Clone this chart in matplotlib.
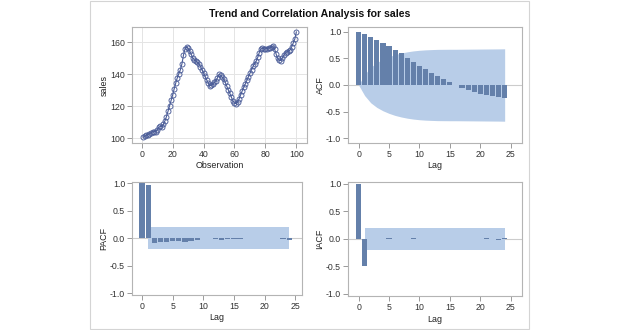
import numpy as np
import matplotlib.pyplot as plt
from matplotlib.patches import Rectangle

plt.rcParams['font.family'] = ['Liberation Sans', 'DejaVu Sans']

# ---------------------------------------------------------------
# data
# ---------------------------------------------------------------
obs = list(range(1, 101))
sales = [100.6, 101.2, 101.7, 102.2, 102.7, 103.3, 103.8, 104.1, 104.0, 105.2,
         106.7, 107.3, 107.0, 108.5, 110.8, 113.5, 116.8, 120.2, 123.6, 127.0,
         130.8, 134.5, 137.8, 140.4, 142.8, 146.5, 152.0, 156.0, 157.2, 156.3,
         154.4, 152.5, 150.2, 149.0, 148.2, 147.6, 146.5, 144.8, 142.8, 140.8,
         138.6, 136.5, 134.5, 132.8, 133.0, 134.0, 135.0, 135.8, 137.8, 140.0,
         139.4, 138.3, 136.9, 135.0, 132.5, 130.2, 128.0, 125.6, 123.2, 121.9,
         121.6, 122.6, 124.6, 127.2, 129.6, 131.8, 134.0, 136.2, 138.4, 140.6,
         142.8, 145.0, 146.6, 148.2, 150.5, 153.5, 155.8, 156.4, 155.8, 155.9,
         156.1, 156.3, 156.6, 157.0, 157.4, 155.6, 152.4, 149.9, 148.7, 148.6,
         150.2, 152.2, 153.3, 154.1, 154.6, 155.2, 157.2, 159.6, 162.0, 166.5]

lags = list(range(0, 25))
acf = [1.0, 0.956, 0.906, 0.85, 0.79, 0.73, 0.654, 0.60, 0.516, 0.44,
       0.365, 0.30, 0.233, 0.17, 0.107, 0.05, 0.004, -0.057, -0.10, -0.138,
       -0.163, -0.19, -0.207, -0.22, -0.239]
acf_band = [0.0, 0.20, 0.336, 0.423, 0.486, 0.535, 0.574, 0.603, 0.626, 0.643,
            0.655, 0.663, 0.668, 0.672, 0.673, 0.674, 0.674, 0.675, 0.676, 0.677,
            0.678, 0.679, 0.68, 0.681, 0.683]

pacf = [1.0, 0.964, -0.08, -0.067, -0.067, -0.055, -0.048, -0.06, -0.055, -0.025,
        0.0, -0.005, -0.012, -0.03, -0.02, -0.02, -0.008, 0.0, -0.003, 0.003,
        -0.005, -0.003, 0.006, -0.015, -0.03]
iacf = [1.0, -0.494, -0.003, 0.002, 0.003, 0.006, 0.002, -0.002, 0.004, 0.015,
        0.004, -0.003, -0.006, -0.002, 0.002, -0.002, 0.004, -0.001, 0.001, -0.002,
        0.002, 0.008, 0.004, -0.02, 0.012]
band_lim = 0.2

bar_col = '#6480aa'
band_col = '#b8cde8'
line_col = '#4a5c98'
frame_col = '#b4b4b4'

W, H = 620, 330
fig = plt.figure(figsize=(6.2, 3.3), dpi=100)
fig.patches.append(Rectangle((90 / W, 1 - 329 / H), 439 / W, 328 / H,
                             transform=fig.transFigure, fill=False,
                             edgecolor='#d4d4d4', linewidth=0.8))

def px_axes(l, t, r, b):
    return fig.add_axes([l / W, 1 - b / H, (r - l) / W, (b - t) / H])

def style(ax, ylabel, xlabel, wpx, hpx):
    for s in ax.spines.values():
        s.set_color(frame_col)
        s.set_linewidth(0.8)
    ax.tick_params(length=3.5, width=0.7, color='#9a9a9a', labelsize=6.3,
                   labelcolor='#333333', pad=1.5)
    ax.set_ylabel(ylabel, fontsize=6.4, color='#222222')
    ax.set_xlabel(xlabel, fontsize=6.4, color='#222222')
    ax.yaxis.set_label_coords(-23.5 / wpx, 0.5)
    ax.xaxis.set_label_coords(0.5, -18.5 / hpx)

# top-left: series plot
ax1 = px_axes(132, 27, 307, 143)
ax1.grid(True, color='#e4e4e4', linewidth=0.7)
ax1.set_axisbelow(True)
ax1.plot(obs, sales, color=line_col, linewidth=0.8, marker='o', markersize=3.6,
         markerfacecolor='none', markeredgecolor=line_col, markeredgewidth=0.65)
ax1.set_xlim(-6.3, 106.9)
ax1.set_ylim(96.9, 169.6)
ax1.set_xticks([0, 20, 40, 60, 80, 100])
ax1.set_yticks([100, 120, 140, 160])
style(ax1, 'sales', 'Observation', 175, 116)

def corr_panel(ax, vals, band_x, band_lo, band_hi, ylabel, xlim, wpx, hpx):
    ax.axhline(0, color='#cccccc', linewidth=0.8, zorder=0)
    ax.fill_between(band_x, band_lo, band_hi, color=band_col, linewidth=0, zorder=1)
    ax.bar(lags, vals, width=0.85, color=bar_col, linewidth=0, zorder=2)
    ax.set_xlim(*xlim)
    ax.set_ylim(-1.06, 1.06)
    ax.set_xticks([0, 5, 10, 15, 20, 25])
    ax.set_yticks([-1.0, -0.5, 0.0, 0.5, 1.0])
    ax.set_yticklabels(['-1.0', '-0.5', '0.0', '0.5', '1.0'])
    style(ax, ylabel, 'Lag', wpx, hpx)

# top-right: ACF
ax2 = px_axes(348, 27, 522, 143)
corr_panel(ax2, acf, lags, [-b for b in acf_band], acf_band, 'ACF',
           (-1.74, 26.85), 174, 116)
ax2.set_ylim(-1.094, 1.094)

# bottom-left: PACF
ax3 = px_axes(132, 182, 302, 295)
corr_panel(ax3, pacf, [1, 24], [-band_lim] * 2, [band_lim] * 2, 'PACF',
           (-1.63, 26.1), 170, 113)
ax3.set_ylim(-1.03, 1.02)

# bottom-right: IACF
ax4 = px_axes(348, 182, 522, 296)
corr_panel(ax4, iacf, [1, 24], [-band_lim] * 2, [band_lim] * 2, 'IACF',
           (-1.74, 26.85), 174, 114)
ax4.set_ylim(-1.04, 1.03)

fig.text(0.5, 1 - 14 / H, 'Trend and Correlation Analysis for sales',
         ha='center', va='center', fontsize=7.6, fontweight='bold', color='#111111')

fig.savefig('out.png', dpi=100, facecolor='white')
